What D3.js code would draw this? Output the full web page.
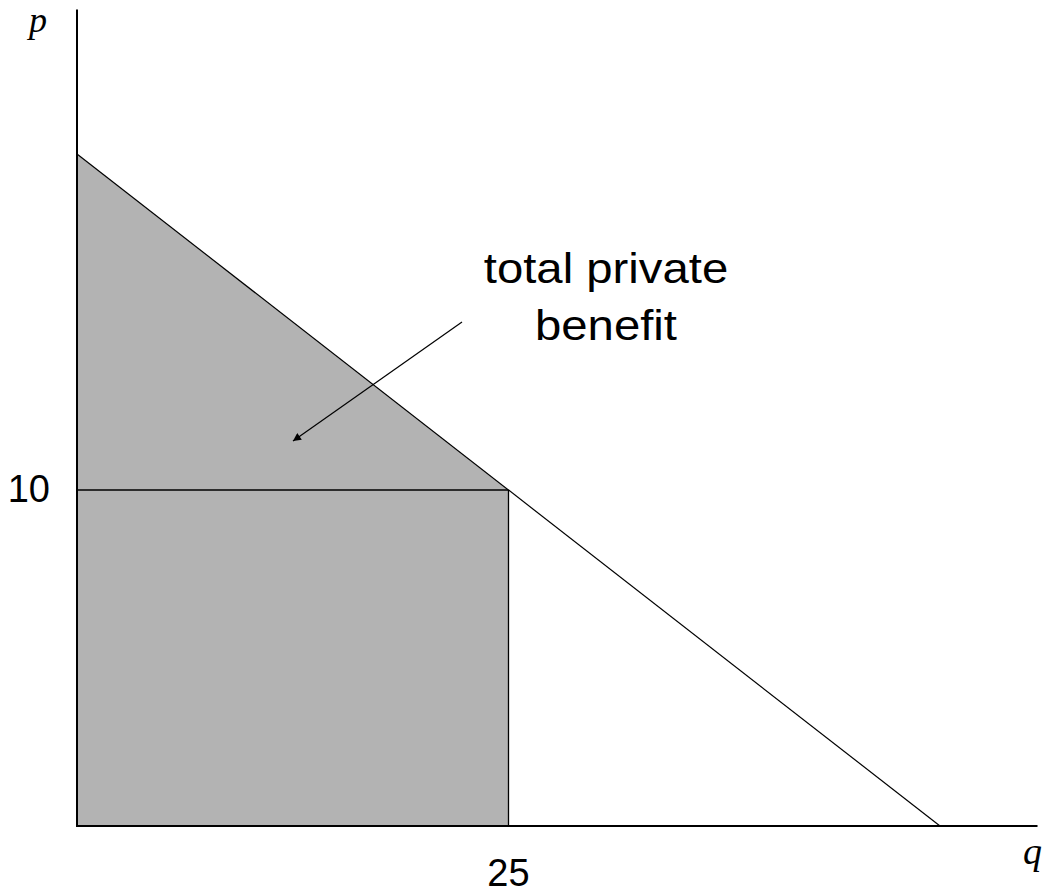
<!DOCTYPE html>
<html>
<head>
<meta charset="utf-8">
<script src="https://cdn.jsdelivr.net/npm/d3@7"></script>
<style>
html,body{margin:0;padding:0;background:#fff;}
</style>
</head>
<body>
<svg id="chart" width="1052" height="894"></svg>
<script>
// Data
const demandQ = [0, 50];
const demandP = [20, 0];
const equilibriumQ = [25];
const equilibriumP = [10];
const xTickLabels = ["25"];
const yTickLabels = ["10"];
const axisLabels = ["q", "p"];
const annotationLines = ["total private", "benefit"];
const xMax = 55.65;
const yMax = 24.3;

const svg = d3.select("#chart");
const x = d3.scaleLinear().domain([0, 50]).range([77, 940]);
const y = d3.scaleLinear().domain([0, 10]).range([826, 490]);

const q0 = equilibriumQ[0], p0 = equilibriumP[0];

// shaded area: under demand curve from 0 to q0
const area = [[0, demandP[0]], [q0, p0], [q0, 0], [0, 0]];
svg.append("path")
  .attr("d", d3.line().x(d => x(d[0])).y(d => y(d[1]))(area) + "Z")
  .attr("fill", "#b3b3b3");

// demand line
svg.append("line")
  .attr("x1", x(demandQ[0])).attr("y1", y(demandP[0]))
  .attr("x2", x(demandQ[1])).attr("y2", y(demandP[1]))
  .attr("stroke", "#000").attr("stroke-width", 1.2);

// guide lines
svg.append("line")
  .attr("x1", x(0)).attr("y1", y(p0)).attr("x2", x(q0)).attr("y2", y(p0))
  .attr("stroke", "#000").attr("stroke-width", 1.3);
svg.append("line")
  .attr("x1", x(q0)).attr("y1", y(p0)).attr("x2", x(q0)).attr("y2", y(0))
  .attr("stroke", "#000").attr("stroke-width", 1.3);

// axes
svg.append("line")
  .attr("x1", x(0)).attr("y1", y(0)).attr("x2", x(xMax)).attr("y2", y(0))
  .attr("stroke", "#000").attr("stroke-width", 2);
svg.append("line")
  .attr("x1", x(0)).attr("y1", y(0) + 1).attr("x2", x(0)).attr("y2", y(yMax))
  .attr("stroke", "#000").attr("stroke-width", 2);

// tick labels
svg.append("text")
  .attr("x", x(q0)).attr("y", 886)
  .attr("text-anchor", "middle")
  .attr("font-family", "Liberation Sans, Arial, sans-serif")
  .attr("font-size", 38)
  .text(xTickLabels[0]);
svg.append("text")
  .attr("x", 50).attr("y", 502)
  .attr("text-anchor", "end")
  .attr("font-family", "Liberation Sans, Arial, sans-serif")
  .attr("font-size", 38)
  .text(yTickLabels[0]);

// axis labels
svg.append("text")
  .attr("x", 1023).attr("y", 864)
  .attr("font-family", "Liberation Serif, Times New Roman, serif")
  .attr("font-style", "italic")
  .attr("font-size", 38)
  .text(axisLabels[0]);
svg.append("text")
  .attr("x", 29).attr("y", 32)
  .attr("font-family", "Liberation Serif, Times New Roman, serif")
  .attr("font-style", "italic")
  .attr("font-size", 36)
  .text(axisLabels[1]);

// annotation (slightly wide text as in reference)
const cx = 606;
const ann = svg.append("text")
  .attr("transform", `translate(${cx},0) scale(1.1,1)`)
  .attr("text-anchor", "middle")
  .attr("font-family", "Liberation Sans, Arial, sans-serif")
  .attr("font-size", 43);
ann.selectAll("tspan").data(annotationLines).join("tspan")
  .attr("x", 0)
  .attr("y", (d, i) => 283 + i * 57)
  .text(d => d);

// arrow
svg.append("defs").append("marker")
  .attr("id", "ah").attr("viewBox", "0 0 10 10")
  .attr("refX", 10).attr("refY", 5)
  .attr("markerWidth", 12).attr("markerHeight", 8)
  .attr("markerUnits", "userSpaceOnUse")
  .attr("orient", "auto")
  .append("path").attr("d", "M0,0 L10,5 L0,10 Z").attr("fill", "#000");
svg.append("line")
  .attr("x1", 462).attr("y1", 322).attr("x2", 293).attr("y2", 441)
  .attr("stroke", "#000").attr("stroke-width", 1.2)
  .attr("marker-end", "url(#ah)");
</script>
</body>
</html>
